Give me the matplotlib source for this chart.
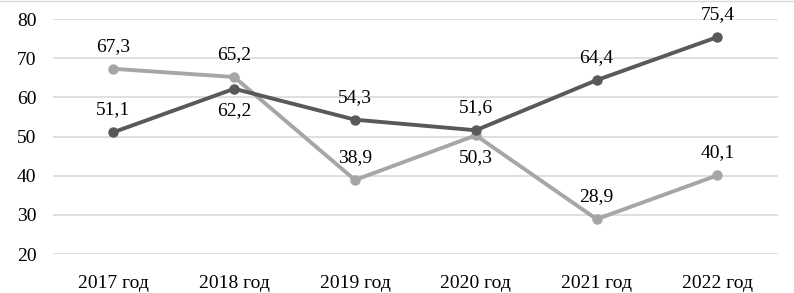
import matplotlib.pyplot as plt

plt.rcParams['font.family'] = ['Liberation Serif', 'DejaVu Serif']

years = ['2017 год', '2018 год', '2019 год', '2020 год', '2021 год', '2022 год']
dark_vals = [51.1, 62.2, 54.3, 51.6, 64.4, 75.4]
light_vals = [67.3, 65.2, 38.9, 50.3, 28.9, 40.1]
# +1 label above point, -1 label below
dark_pos = [1, -1, 1, 1, 1, 1]
light_pos = [1, 1, 1, -1, 1, 1]

dark = '#595959'
light = '#a6a6a6'

fig = plt.figure(figsize=(7.94, 2.93), dpi=100)
ax = fig.add_axes([0.0667, 0.133, 0.913, 0.802])

x = range(len(years))
ax.plot(x, light_vals, color=light, lw=2.8, marker='o', ms=6.5, zorder=3)
ax.plot(x, dark_vals, color=dark, lw=2.8, marker='o', ms=6.5, zorder=4)

for i in x:
    for vals, pos in ((dark_vals, dark_pos), (light_vals, light_pos)):
        ax.annotate(f'{vals[i]:.1f}'.replace('.', ','), (i, vals[i]),
                    xytext=(0, 16 * pos[i]), textcoords='offset points',
                    ha='center', va='center', fontsize=14, color='black')

ax.set_xlim(-0.5, len(years) - 0.5)
ax.set_ylim(20, 80)
ax.set_yticks(range(20, 81, 10))
ax.set_xticks(list(x))
ax.set_xticklabels(years)
ax.yaxis.grid(True, color='#d9d9d9', lw=1.2)
ax.set_axisbelow(True)
for s in ax.spines.values():
    s.set_visible(False)
ax.tick_params(axis='both', length=0, labelsize=14)
ax.tick_params(axis='y', pad=12)
ax.tick_params(axis='x', pad=15)

fig.add_artist(plt.Line2D([0, 1], [0.995, 0.995], color='#d9d9d9', lw=1))

fig.savefig('out.png', dpi=100)
